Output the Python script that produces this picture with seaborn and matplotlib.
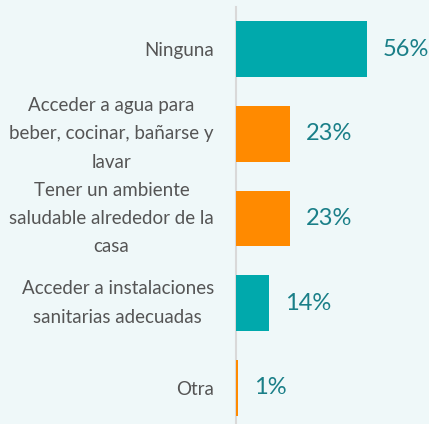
import matplotlib.pyplot as plt
import numpy as np
import pandas as pd
import seaborn as sns

# datos
categorias = ["Ninguna",
              "Acceder a agua para\nbeber, cocinar, bañarse y\nlavar",
              "Tener un ambiente\nsaludable alrededor de la\ncasa",
              "Acceder a instalaciones\nsanitarias adecuadas",
              "Otra"]
valores = [56, 23, 23, 14, 1]
grupo = ["a", "b", "b", "a", "b"]
etiquetas = ["56%", "23%", "23%", "14%", "1%"]

df = pd.DataFrame({"cat": categorias, "val": valores, "grupo": grupo})
paleta = {"a": "#00a9ac", "b": "#ff8a00"}

fuente = ["Lato", "DejaVu Sans"]
fondo = "#eff8f9"
fig = plt.figure(figsize=(4.29, 4.24), dpi=100, facecolor=fondo)
ax = fig.add_axes([236 / 429, 0, 1 - 236 / 429, 1 - 7 / 424])
ax.set_facecolor(fondo)

sns.barplot(data=df, x="val", y="cat", hue="grupo", palette=paleta, dodge=False,
            width=0.66, saturation=1, legend=False, ax=ax)

ax.set_xlim(0, 82.5)
ax.set_ylim(4.43, -0.5)
ax.set_xlabel("")
ax.set_ylabel("")
ax.set_xticks([])
for s in ["top", "right", "bottom"]:
    ax.spines[s].set_visible(False)
ax.spines["left"].set_color("#d9d9d9")
ax.spines["left"].set_linewidth(1.5)
ax.spines["left"].set_zorder(0.5)
# etiquetas alineadas a la derecha, líneas centradas entre sí
ax.tick_params(axis="y", length=0, pad=16, labelsize=13.5, labelcolor="#555555")
for lab in ax.get_yticklabels():
    lab.set_horizontalalignment("right")
    lab.set_multialignment("center")
    lab.set_fontfamily(fuente)
    lab.set_linespacing(1.8)
    if "\n" in lab.get_text():
        lab.set_verticalalignment("center")

for i, (v, t) in enumerate(zip(valores, etiquetas)):
    ax.text(v + 6.8, i, t, va="center", ha="left", fontsize=17,
            color="#1a7f88", family=fuente)

fig.savefig("out.png", dpi=100, facecolor=fondo)
